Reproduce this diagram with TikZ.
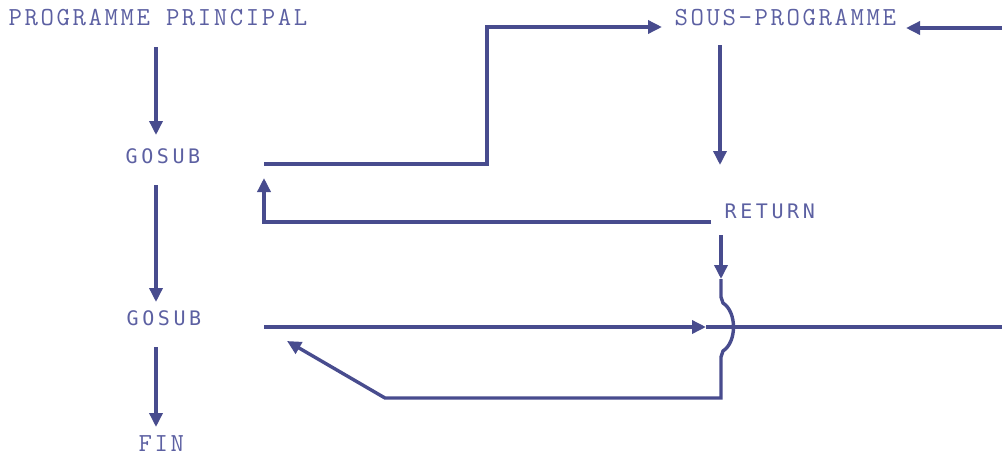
\documentclass[tikz,border=0pt]{standalone}
\usepackage{fontspec}
\newfontfamily\swfont[LetterSpace=18]{DejaVu Sans Mono}
\newfontfamily\twfont[LetterSpace=10]{Latin Modern Mono}
\usetikzlibrary{arrows.meta}
\definecolor{ink}{RGB}{72,76,142}
\definecolor{txt}{RGB}{92,96,162}
\begin{document}
\begin{tikzpicture}[x=1pt,y=-1pt,
  line width=3.4pt, draw=ink,
  >={Triangle[length=14pt,width=13pt]},
  tw/.style={anchor=base west,inner sep=0pt,text=txt,font=\twfont\fontsize{26}{26}\selectfont},
  sw/.style={anchor=base west,inner sep=0pt,text=txt,font=\swfont\fontsize{20}{20}\selectfont},
  flow/.style={->,ink,line width=3.4pt}]
\useasboundingbox (0,0) rectangle (1002,456);
% labels
\node[tw] (pp) at (7,25) {PROGRAMME PRINCIPAL};
\node[tw] (sp) at (673,25) {SOUS-PROGRAMME};
\node[sw] (g1) at (124,163) {GOSUB};
\node[sw] (g2) at (125,325) {GOSUB};
\node[sw] (rt) at (723,218) {RETURN};
\node[tw] (fin) at (137,451) {FIN};
% coordinates
\coordinate (a1s) at (156,47);  \coordinate (a1e) at (156,135);
\coordinate (a2s) at (156,185); \coordinate (a2e) at (156,302);
\coordinate (a3s) at (156,347); \coordinate (a3e) at (156,427);
\coordinate (c1) at (264,164); \coordinate (c2) at (487,164);
\coordinate (c3) at (487,27);  \coordinate (c4) at (662,27);
\coordinate (rR) at (1004,28); \coordinate (rL) at (906,28);
\coordinate (s1) at (720,45);  \coordinate (s2) at (720,165);
\coordinate (r1) at (711,222); \coordinate (r2) at (264,222); \coordinate (r3) at (264,178);
\coordinate (t1) at (721,235); \coordinate (t2) at (721,279);
\coordinate (j0) at (721,279); \coordinate (j1) at (721,297); \coordinate (j2) at (723,303);
\coordinate (j3) at (723,351); \coordinate (j4) at (721,357); \coordinate (j5) at (721,398);
\coordinate (d1) at (385,398); \coordinate (d2) at (287,341);
\coordinate (h1) at (264,327); \coordinate (h2) at (706,327); \coordinate (h3) at (1004,327);
% connectors
\draw[flow] (a1s) -- (a1e);
\draw[flow] (a2s) -- (a2e);
\draw[flow] (a3s) -- (a3e);
\draw[flow,line join=miter] (c1) -- (c2) -- (c3) -- (c4);
\draw[flow] (rR) -- (rL);
\draw[flow] (s1) -- (s2);
\draw[flow,line join=miter] (r1) -- (r2) -- (r3);
\draw[flow] (t1) -- (t2);
\draw[flow,line join=miter] (j0) -- (j1) -- (j2) .. controls (737,312) and (737,342) .. (j3) -- (j4) -- (j5) -- (d1) -- (d2);
\draw[flow] (h1) -- (h2);
\draw[ink,line width=3.4pt] (h2) -- (h3);
\end{tikzpicture}
\end{document}
